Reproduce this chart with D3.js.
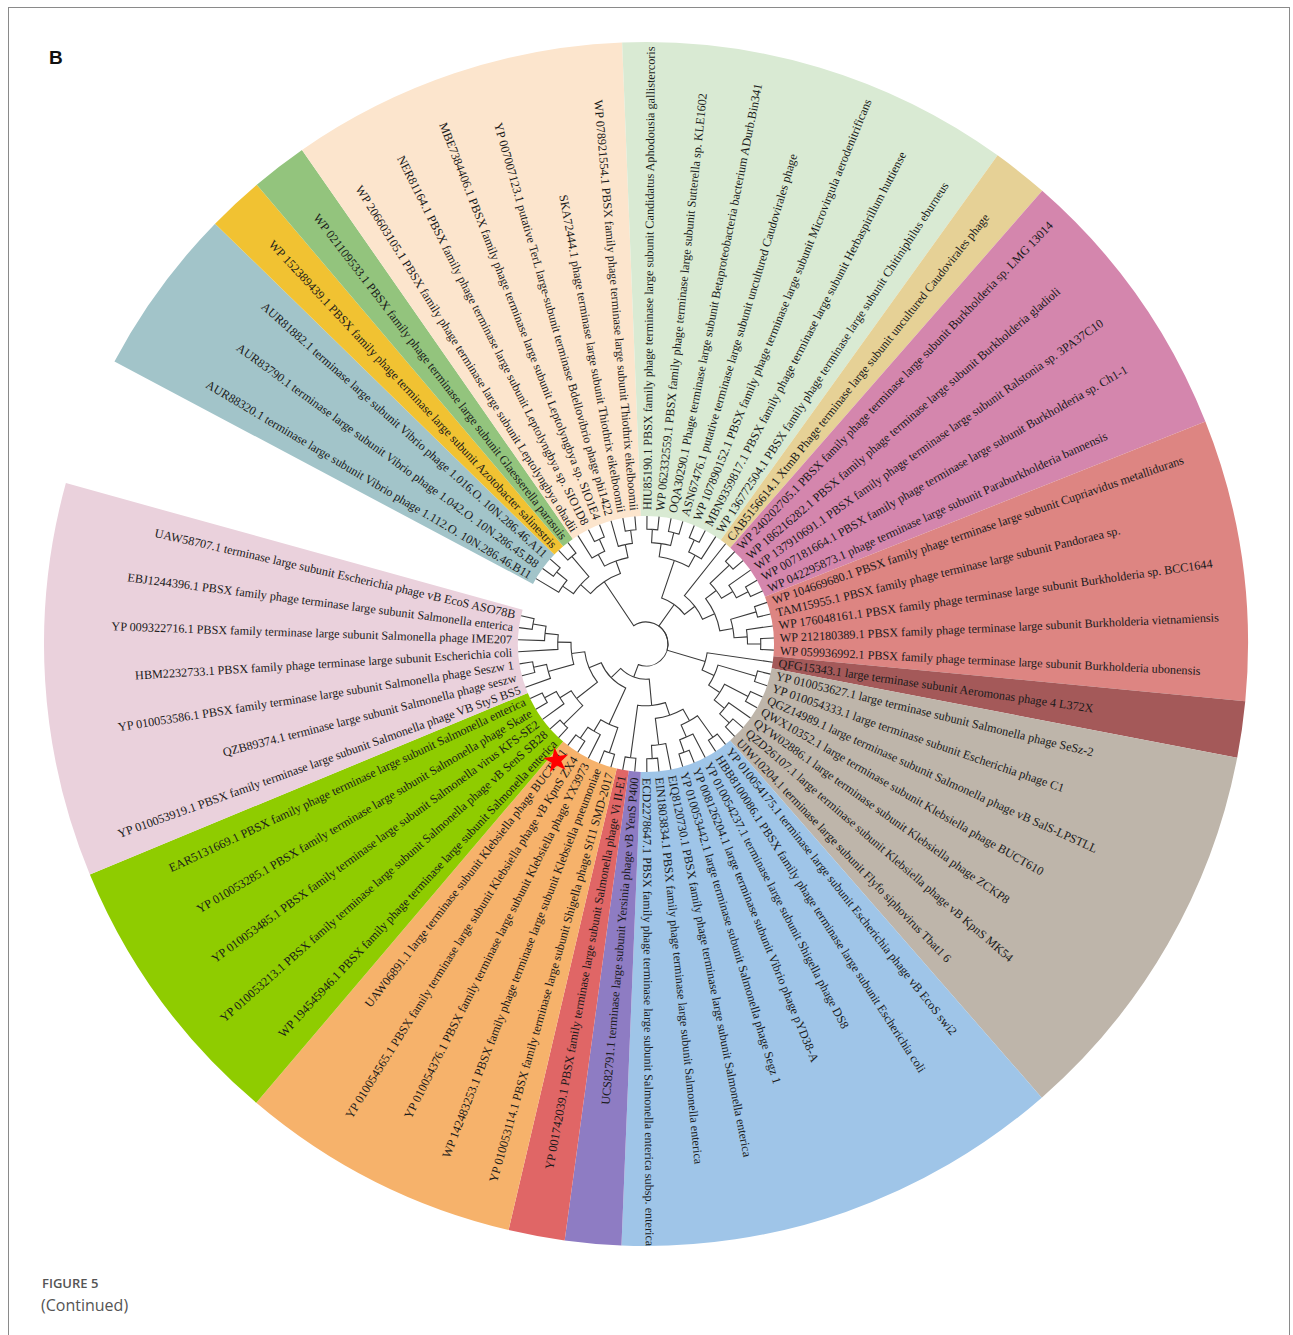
<!DOCTYPE html>
<html>
<head>
<meta charset="utf-8">
<script src="https://cdn.jsdelivr.net/npm/d3@7"></script>
<style>
  html, body { margin: 0; padding: 0; background: #fff; }
  svg { display: block; }
</style>
</head>
<body>
<svg id="chart" width="1293" height="1335"></svg>
<script>
// Leaf labels, listed clockwise starting after the open gap (upper left)
const leafLabels = [
  "AUR88320.1 terminase large subunit Vibrio phage 1.112.O. 10N.286.46.B11",
  "AUR83790.1 terminase large subunit Vibrio phage 1.042.O. 10N.286.45.B8",
  "AUR81882.1 terminase large subunit Vibrio phage 1.016.O. 10N.286.46.A11",
  "WP 152389439.1 PBSX family phage terminase large subunit Azotobacter salinestris",
  "WP 021109533.1 PBSX family phage terminase large subunit Glaesserella parasuis",
  "WP 206603105.1 PBSX family phage terminase large subunit Leptolyngbya ohadii",
  "NER81164.1 PBSX family phage terminase large subunit Leptolyngbya sp. SIO1D8",
  "MBE7384406.1 PBSX family phage terminase large subunit Leptolyngbya sp. SIO1E4",
  "YP 007007123.1 putative TerL large-subunit terminase Bdellovibrio phage phi1422",
  "SKA72444.1 phage terminase large subunit Thiothrix eikelboomii",
  "WP 078921554.1 PBSX family phage terminase large subunit Thiothrix eikelboomii",
  "HIU85190.1 PBSX family phage terminase large subunit Candidatus Aphodousia gallistercoris",
  "WP 062332559.1 PBSX family phage terminase large subunit Sutterella sp. KLE1602",
  "OQA30290.1 Phage terminase large subunit Betaproteobacteria bacterium ADurb.Bin341",
  "ASN67476.1 putative terminase large subunit uncultured Caudovirales phage",
  "WP 107890152.1 PBSX family phage terminase large subunit Microvirgula aerodenitrificans",
  "MBN9359817.1 PBSX family phage terminase large subunit Herbaspirillum huttiense",
  "WP 136772504.1 PBSX family phage terminase large subunit Chitiniphilus eburneus",
  "CAB5156614.1 XtmB Phage terminase large subunit uncultured Caudovirales phage",
  "WP 240202705.1 PBSX family phage terminase large subunit Burkholderia sp. LMG 13014",
  "WP 186216282.1 PBSX family phage terminase large subunit Burkholderia gladioli",
  "WP 137910691.1 PBSX family phage terminase large subunit Ralstonia sp. 3PA37C10",
  "WP 007181664.1 PBSX family phage terminase large subunit Burkholderia sp. Ch1-1",
  "WP 042295873.1 phage terminase large subunit Paraburkholderia bannensis",
  "WP 104669680.1 PBSX family phage terminase large subunit Cupriavidus metallidurans",
  "TAM15955.1 PBSX family phage terminase large subunit Pandoraea sp.",
  "WP 176048161.1 PBSX family phage terminase large subunit Burkholderia sp. BCC1644",
  "WP 212180389.1 PBSX family phage terminase large subunit Burkholderia vietnamiensis",
  "WP 059936992.1 PBSX family phage terminase large subunit Burkholderia ubonensis",
  "QFG15343.1 large terminase subunit Aeromonas phage 4 L372X",
  "YP 010053627.1 large terminase subunit Salmonella phage SeSz-2",
  "YP 010054333.1 large terminase subunit Escherichia phage C1",
  "QGZ14989.1 large terminase subunit Salmonella phage vB SalS-LPSTLL",
  "QWX10352.1 large terminase subunit Klebsiella phage BUCT610",
  "QYW02886.1 large terminase subunit Klebsiella phage ZCKP8",
  "QZD26107.1 large terminase subunit Klebsiella phage vB KpnS MK54",
  "UIW10204.1 terminase large subunit Flyfo siphovirus Tbat1 6",
  "YP 010054175.1 terminase large subunit Escherichia phage vB EcoS swi2",
  "HBB8100086.1 PBSX family phage terminase large subunit Escherichia coli",
  "YP 010054237.1 terminase large subunit Shigella phage DS8",
  "YP 008126204.1 large terminase subunit Vibrio phage pYD38-A",
  "YP 010053442.1 large terminase subunit Salmonella phage Segz 1",
  "EIQ8120730.1 PBSX family phage terminase large subunit Salmonella enterica",
  "EIN1803834.1 PBSX family phage terminase large subunit Salmonella enterica",
  "ECD2278647.1 PBSX family phage terminase large subunit Salmonella enterica subsp. enterica",
  "UCS82791.1 terminase large subunit Yersinia phage vB YenS P400",
  "YP 001742039.1 PBSX family terminase large subunit Salmonella phage Vi II-E1",
  "YP 010053114.1 PBSX family terminase large subunit Shigella phage Sf11 SMD-2017",
  "WP 142483253.1 PBSX family phage terminase large subunit Klebsiella pneumoniae",
  "YP 010054376.1 PBSX family terminase large subunit Klebsiella phage YX3973",
  "YP 010054565.1 PBSX family terminase large subunit Klebsiella phage vB KpnS ZX4",
  "UAW06891.1 large terminase subunit Klebsiella phage BUCT541",
  "WP 194545946.1 PBSX family phage terminase large subunit Salmonella enterica",
  "YP 010053213.1 PBSX family terminase large subunit Salmonella phage vB SenS SB28",
  "YP 010053485.1 PBSX family terminase large subunit Salmonella virus KFS-SE2",
  "YP 010053285.1 PBSX family terminase large subunit Salmonella phage Skate",
  "EAR5131669.1 PBSX family phage terminase large subunit Salmonella enterica",
  "YP 010053919.1 PBSX family terminase large subunit Salmonella phage VB StyS BS5",
  "QZB89374.1 terminase large subunit Salmonella phage seszw",
  "YP 010053586.1 PBSX family terminase large subunit Salmonella phage Seszw 1",
  "HBM2232733.1 PBSX family phage terminase large subunit Escherichia coli",
  "YP 009322716.1 PBSX family terminase large subunit Salmonella phage IME207",
  "EBJ1244396.1 PBSX family phage terminase large subunit Salmonella enterica",
  "UAW58707.1 terminase large subunit Escherichia phage vB EcoS ASO78B"
];

// Coloured clade bands: first leaf, last leaf, fill
const cladeFirst  = [0, 3, 4, 5, 11, 18, 19, 24, 29, 30, 37, 45, 46, 47, 52, 57];
const cladeLast   = [2, 3, 4, 10, 17, 18, 23, 28, 29, 36, 44, 45, 46, 51, 56, 63];
const cladeColors = ["#a2c4c9", "#f1c232", "#93c47d", "#fce5cd", "#d9ead3", "#e6d196",
                     "#d486ad", "#dd8582", "#a45959", "#beb5aa", "#9fc5e8", "#8e7cc3",
                     "#e06666", "#f6b26b", "#8fcc00", "#ead1dc"];

// Tree topology (nested pairs of leaf indices)
const vibrioClade   = [[0, [1, 2]], [3, 4]];
const cyanoClade    = [[5, [6, 7]], [8, [9, 10]]];
const betaClade     = [[[11, 12], [13, 14]], [[15, 16], 17]];
const burkClade     = [18, [[[19, 20], [21, [22, 23]]], [[24, 25], [26, [27, 28]]]]];
const greyClade     = [29, [[30, 31], [[32, 33], [34, [35, 36]]]]];
const blueClade     = [[[[37, 38], [39, [40, 41]]], [42, [43, 44]]], [45, 46]];
const orangeClade   = [[47, 48], [49, [50, 51]]];
const limeClade     = [[52, 53], [54, [55, 56]]];
const pinkClade     = [[57, [58, 59]], [60, [61, [62, 63]]]];
const topology = [
  [vibrioClade, cyanoClade],
  [betaClade, burkClade],
  greyClade,
  [blueClade, [orangeClade, [limeClade, pinkClade]]]
];
const markedLeaf = 51;

// ---- layout ----
const svg = d3.select("#chart");
const cx = 646, cy = 644;
const startDeg = 298;        // leading edge of the first leaf slot (clockwise from 12 o'clock)
const spanDeg = 347.5;       // sweep covered by all leaf slots
const rootR = 22, tipR = 128, labelR = 134, bandOuter = 602;

// frame
svg.append("rect")
  .attr("x", 8.5).attr("y", 7.5)
  .attr("width", 1281).attr("height", 1340)
  .attr("fill", "none").attr("stroke", "#8a8a8a").attr("stroke-width", 1);

svg.append("text")
  .attr("x", 49).attr("y", 64)
  .attr("font-family", "Liberation Sans, Arial, sans-serif")
  .attr("font-weight", "bold").attr("font-size", 19)
  .attr("fill", "#111")
  .text("B");

const root = d3.hierarchy(topology, d => Array.isArray(d) ? d : null);
d3.cluster().size([spanDeg, 1]).separation(() => 1)(root);

const rScale = d3.scaleLinear().domain([0, 1]).range([rootR, tipR]);
const toRad = deg => (startDeg + deg) * Math.PI / 180;
const pt = (a, r) => [cx + r * Math.sin(a), cy - r * Math.cos(a)];

const leaves = root.leaves();
const step = leaves[1].x - leaves[0].x;

// clade bands
const g = svg.append("g");
const arcGen = d3.arc().innerRadius(tipR).outerRadius(bandOuter);
cladeFirst.forEach((f, i) => {
  const a0 = toRad(leaves[f].x - step / 2);
  const a1 = toRad(leaves[cladeLast[i]].x + step / 2);
  g.append("path")
    .attr("transform", `translate(${cx},${cy})`)
    .attr("d", arcGen({startAngle: a0, endAngle: a1}))
    .attr("fill", cladeColors[i]);
});

// branches: arc at parent radius, then radial segment to the child
function linkPath(d) {
  const a0 = toRad(d.parent.x), a1 = toRad(d.x);
  const r0 = rScale(d.parent.y), r1 = rScale(d.y);
  const p0 = pt(a0, r0), p1 = pt(a1, r0), p2 = pt(a1, r1);
  const sweep = a1 > a0 ? 1 : 0;
  return `M${p0[0]},${p0[1]}A${r0},${r0} 0 0 ${sweep} ${p1[0]},${p1[1]}L${p2[0]},${p2[1]}`;
}
g.append("g")
  .attr("fill", "none").attr("stroke", "#3a3a3a").attr("stroke-width", 1.1)
  .selectAll("path")
  .data(root.links().map(l => l.target))
  .join("path")
  .attr("d", linkPath);

// leaf labels: the left half is turned so it still reads upright
const labelDeg = d => (startDeg + d.x) % 360;
g.append("g")
  .attr("font-family", "Liberation Serif, Times New Roman, serif")
  .attr("font-size", 12.2)
  .attr("fill", "#1a1a1a")
  .selectAll("text")
  .data(leaves)
  .join("text")
  .attr("transform", d => {
    const deg = labelDeg(d);
    return `translate(${cx},${cy}) rotate(${deg - 90}) translate(${labelR},0)` + (deg > 180 ? " rotate(180)" : "");
  })
  .attr("text-anchor", d => labelDeg(d) > 180 ? "end" : "start")
  .attr("dy", "0.35em")
  .text(d => leafLabels[d.data]);

// star marking the study phage
const starLeaf = leaves[markedLeaf];
const sp = pt(toRad(starLeaf.x), 147);
g.append("path")
  .attr("transform", `translate(${sp[0]},${sp[1]}) rotate(-8)`)
  .attr("d", d3.symbol(d3.symbolStar, 200)())
  .attr("fill", "#ff0000");

// caption
svg.append("text")
  .attr("x", 42).attr("y", 1288)
  .attr("font-family", "Open Sans, Liberation Sans, sans-serif")
  .attr("font-size", 13).attr("font-weight", 600)
  .attr("fill", "#555")
  .text("FIGURE 5");
svg.append("text")
  .attr("x", 41).attr("y", 1311)
  .attr("font-family", "Open Sans, Liberation Sans, sans-serif")
  .attr("font-size", 16)
  .attr("fill", "#555")
  .text("(Continued)");
</script>
</body>
</html>
